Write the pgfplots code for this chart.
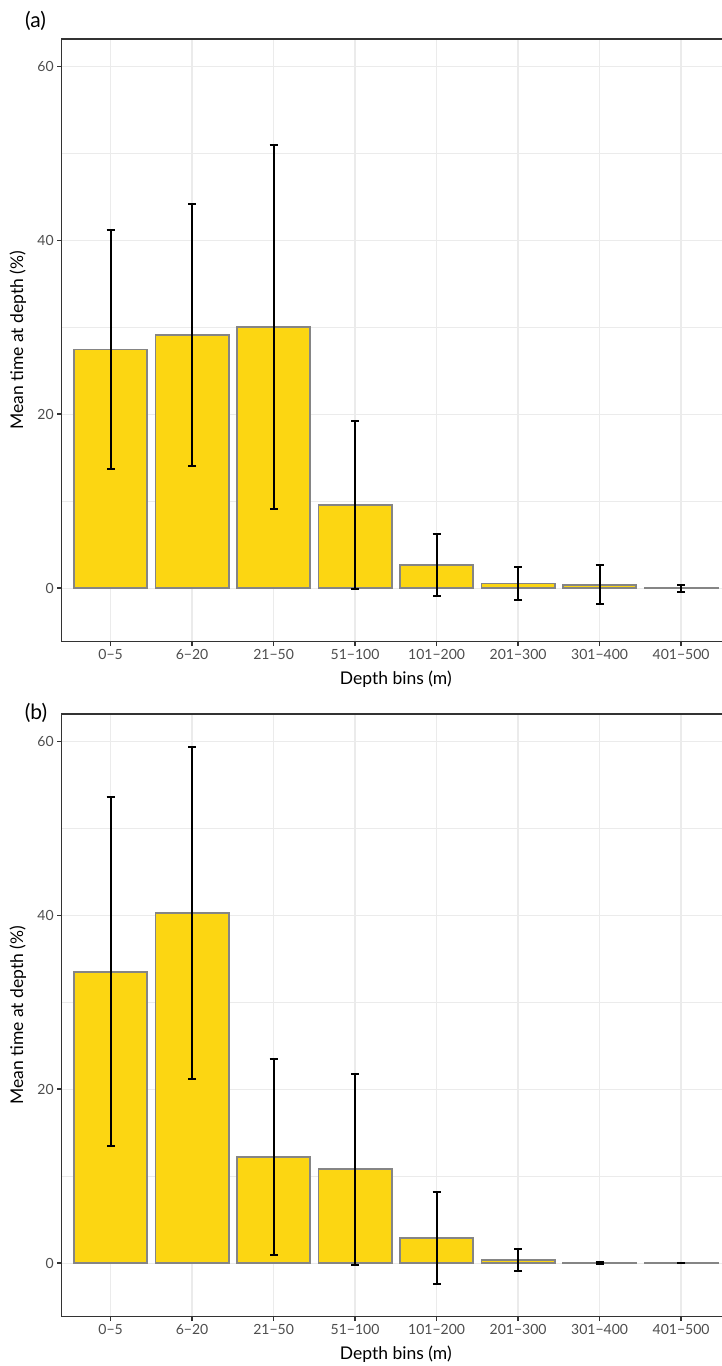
\documentclass[border=0pt]{standalone}
\usepackage{fontspec}
\setmainfont{Lato}
\usepackage{pgfplots}
\usepackage{pgfplotstable}
\pgfplotsset{compat=1.18}
\definecolor{barfill}{HTML}{FCD612}
\definecolor{barline}{HTML}{858585}
\definecolor{gridc}{HTML}{EBEBEB}
\definecolor{greyA}{HTML}{333333}
\definecolor{greyB}{HTML}{4D4D4D}

\pgfplotstableread{
x y e
1 27.45 13.70
2 29.10 15.10
3 30.00 20.95
4 9.60 9.65
5 2.70 3.55
6 0.53 1.88
7 0.41 2.23
8 0.02 0.40
}\dataA

\pgfplotstableread{
x y e
1 33.50 20.05
2 40.27 19.05
3 12.20 11.30
4 10.80 11.00
5 2.92 5.30
6 0.40 1.24
7 0.04 0.12
8 0.01 0.03
}\dataB

\pgfplotsset{
  panel/.style={
    scale only axis, width=668.3pt, height=602.7pt,
    xmin=0.4, xmax=8.6, ymin=-6.15, ymax=63.15,
    ybar, bar width=0.9,
    xtick={1,...,8},
    xticklabels={0−5,6−20,21−50,51−100,101−200,201−300,301−400,401−500},
    ytick={0,20,40,60}, minor ytick={10,30,50},
    xtick pos=left, ytick pos=left,
    tick align=outside, major tick length=4.5pt, minor tick length=0pt,
    every tick/.style={greyA, line width=1.6pt},
    axis line style={greyA, line width=1.6pt},
    xmajorgrids, ymajorgrids, yminorgrids,
    major grid style={gridc, line width=1.2pt},
    minor grid style={gridc, line width=0.6pt},
    ticklabel style={font=\fontsize{14}{16}\selectfont, text=greyB},
    /pgf/number format/assume math mode=true,
    xlabel={Depth bins (m)}, ylabel={Mean time at depth (\%)},
    every axis x label/.style={at={(axis description cs:0.5,-0.0619)}, anchor=center, font=\fontsize{17.5}{20}\selectfont},
    every axis y label/.style={at={(axis description cs:-0.0658,0.5)}, anchor=center, rotate=90, font=\fontsize{17.5}{20}\selectfont},
  },
  barplot/.style={
    fill=barfill, draw=barline, line width=1.8pt,
    error bars/.cd, y dir=both, y explicit,
    error bar style={black, line width=2pt},
    error mark options={rotate=90, black, mark size=4pt, line width=2pt},
  }
}

\begin{document}
\begin{tikzpicture}[x=1pt,y=1pt]
\begin{axis}[panel, at={(61.7pt,724.3pt)}, anchor=south west]
\addplot[barplot] table[x=x, y=y, y error=e] {\dataA};
\draw[greyA, line width=1.6pt] (rel axis cs:0,0) rectangle (rel axis cs:1,1);
\end{axis}
\begin{axis}[panel, at={(61.7pt,49.3pt)}, anchor=south west]
\addplot[barplot] table[x=x, y=y, y error=e] {\dataB};
\draw[greyA, line width=1.6pt] (rel axis cs:0,0) rectangle (rel axis cs:1,1);
\end{axis}
\node[anchor=center] at (35.5,1345.5) {\fontsize{21}{24}\selectfont (a)};
\node[anchor=center] at (36,653) {\fontsize{21}{24}\selectfont (b)};
\pgfresetboundingbox
\path[use as bounding box] (0,0) rectangle (721,1366);
\end{tikzpicture}
\end{document}
